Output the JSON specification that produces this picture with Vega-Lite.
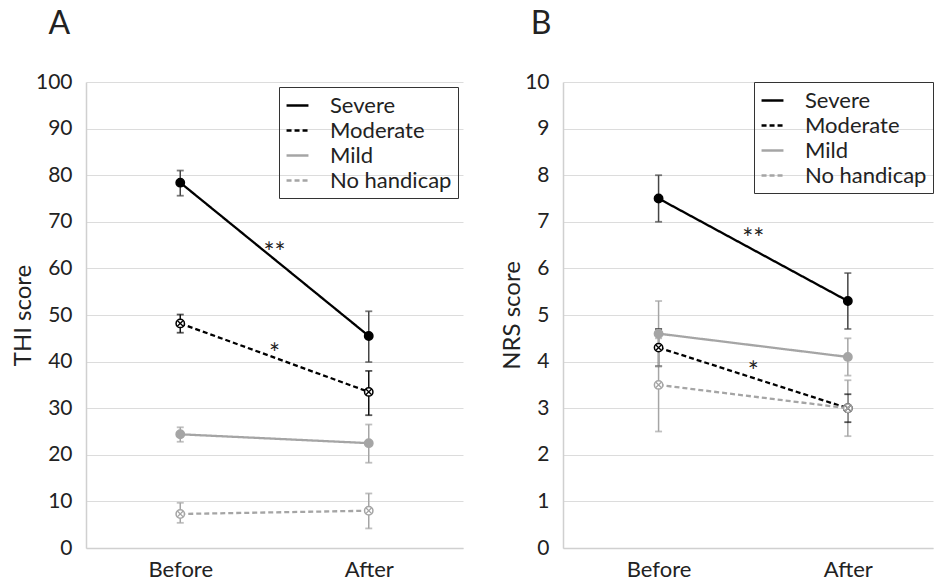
{
  "$schema": "https://vega.github.io/schema/vega-lite/v6.json",
  "padding": {"left": 11, "top": 8, "right": 0, "bottom": 0},
  "background": "white",
  "spacing": 37,
  "resolve": {"scale": {"color": "independent", "strokeDash": "independent", "x": "independent", "y": "independent"}, "legend": {"color": "independent", "strokeDash": "independent"}},
  "config": {
    "font": "Lato",
    "view": {"stroke": null},
    "axis": {
      "labelFont": "Lato", "titleFont": "Lato",
      "labelFontSize": 21, "titleFontSize": 24, "titleFontWeight": "normal",
      "labelColor": "#222", "titleColor": "#222",
      "ticks": false, "domainColor": "#d0d0d0", "gridColor": "#dcdcdc", "domainWidth": 1.5
    },
    "legend": {
      "title": null, "orient": "top-right", "offset": 5,
      "symbolType": "stroke", "symbolSize": 480, "symbolStrokeWidth": 2.5,
      "labelFontSize": 22, "labelFont": "Lato", "labelColor": "#222", "labelOffset": 20,
      "rowPadding": 1, "padding": 6, "strokeColor": "#333", "labelLimit": 300
    },
    "title": {"font": "Lato", "fontSize": 32, "fontWeight": "normal", "color": "#222", "anchor": "start", "frame": "bounds"}
  },
  "datasets": {
    "A": [
      {"series": "Severe", "t": 1, "y": 78.4, "lo": 75.6, "hi": 81.0},
      {"series": "Severe", "t": 2, "y": 45.5, "lo": 39.9, "hi": 50.8},
      {"series": "Moderate", "t": 1, "y": 48.2, "lo": 46.2, "hi": 50.1},
      {"series": "Moderate", "t": 2, "y": 33.5, "lo": 28.5, "hi": 38.0},
      {"series": "Mild", "t": 1, "y": 24.4, "lo": 22.8, "hi": 25.9},
      {"series": "Mild", "t": 2, "y": 22.5, "lo": 18.3, "hi": 26.5},
      {"series": "No handicap", "t": 1, "y": 7.3, "lo": 5.4, "hi": 9.7},
      {"series": "No handicap", "t": 2, "y": 8.0, "lo": 4.2, "hi": 11.7}
    ],
    "B": [
      {"series": "Severe", "t": 1, "y": 7.5, "lo": 7.0, "hi": 8.0},
      {"series": "Severe", "t": 2, "y": 5.3, "lo": 4.7, "hi": 5.9},
      {"series": "Moderate", "t": 1, "y": 4.3, "lo": 3.9, "hi": 4.7},
      {"series": "Moderate", "t": 2, "y": 3.0, "lo": 2.7, "hi": 3.3},
      {"series": "Mild", "t": 1, "y": 4.6, "lo": 3.9, "hi": 5.3},
      {"series": "Mild", "t": 2, "y": 4.1, "lo": 3.7, "hi": 4.5},
      {"series": "No handicap", "t": 1, "y": 3.5, "lo": 2.5, "hi": 4.5},
      {"series": "No handicap", "t": 2, "y": 3.0, "lo": 2.4, "hi": 3.6}
    ],
    "annA": [
      {"t": 1.5, "y": 63, "label": "**"},
      {"t": 1.5, "y": 41.5, "label": "*"}
    ],
    "annB": [
      {"t": 1.5, "y": 6.6, "label": "**"},
      {"t": 1.5, "y": 3.75, "label": "*"}
    ]
  },
  "hconcat": [
    {
      "title": {"text": "A", "dx": 37, "offset": 30},
      "width": 377,
      "height": 466,
      "data": {"name": "A"},
      "encoding": {
        "x": {"field": "t", "type": "quantitative",
          "scale": {"domain": [0.5, 2.5], "nice": false, "zero": false},
          "axis": {"values": [1, 2], "labelExpr": "datum.value == 1 ? 'Before' : 'After'", "grid": false, "title": null, "labelPadding": 11, "labelFontSize": 22}}
      },
      "layer": [
        {
          "mark": {"type": "rule", "strokeWidth": 1.5},
          "encoding": {
            "y": {"field": "lo", "type": "quantitative", "scale": {"domain": [0, 100], "nice": false},
              "axis": {"values": [0,10,20,30,40,50,60,70,80,90,100], "title": "THI score", "labelPadding": 14, "titlePadding": 0}},
            "y2": {"field": "hi"},
            "stroke": {"field": "series", "type": "nominal", "scale": {"domain": ["Severe", "Moderate", "Mild", "No handicap"], "range": ["#444444", "#111111", "#a5a5a5", "#a5a5a5"]}, "legend": null}
          }
        },
        {
          "mark": {"type": "tick", "orient": "horizontal", "size": 7, "thickness": 1.8},
          "encoding": {
            "y": {"field": "lo", "type": "quantitative"},
            "fill": {"field": "series", "type": "nominal", "scale": {"domain": ["Severe", "Moderate", "Mild", "No handicap"], "range": ["#444444", "#111111", "#a5a5a5", "#a5a5a5"]}, "legend": null}
          }
        },
        {
          "mark": {"type": "tick", "orient": "horizontal", "size": 7, "thickness": 1.8},
          "encoding": {
            "y": {"field": "hi", "type": "quantitative"},
            "fill": {"field": "series", "type": "nominal", "scale": {"domain": ["Severe", "Moderate", "Mild", "No handicap"], "range": ["#444444", "#111111", "#a5a5a5", "#a5a5a5"]}, "legend": null}
          }
        },
        {
          "mark": {"type": "line", "strokeWidth": 2.3},
          "encoding": {
            "y": {"field": "y", "type": "quantitative"},
            "color": {"field": "series", "type": "nominal", "sort": ["Severe", "Moderate", "Mild", "No handicap"], "scale": {"domain": ["Severe", "Moderate", "Mild", "No handicap"], "range": ["#000000", "#000000", "#a5a5a5", "#a5a5a5"]}, "legend": {}},
            "strokeDash": {"field": "series", "type": "nominal", "sort": ["Severe", "Moderate", "Mild", "No handicap"], "scale": {"domain": ["Severe", "Moderate", "Mild", "No handicap"], "range": [[1, 0], [5, 3], [1, 0], [5, 3]]}, "legend": {}}
          }
        },
        {
          "mark": {"type": "circle", "size": 70, "strokeWidth": 1.5, "opacity": 1},
          "encoding": {
            "y": {"field": "y", "type": "quantitative"},
            "fill": {"field": "series", "type": "nominal", "scale": {"domain": ["Severe", "Moderate", "Mild", "No handicap"], "range": ["#000000", "#ffffff", "#a5a5a5", "#ffffff"]}, "legend": null},
            "stroke": {"field": "series", "type": "nominal", "scale": {"domain": ["Severe", "Moderate", "Mild", "No handicap"], "range": ["#000000", "#000000", "#a5a5a5", "#a5a5a5"]}, "legend": null}
          }
        },
        {
          "transform": [{"filter": {"field": "series", "oneOf": ["Moderate", "No handicap"]}}],
          "mark": {"type": "point", "shape": "M-0.7,-0.7L0.7,0.7M-0.7,0.7L0.7,-0.7", "size": 70, "strokeWidth": 1.3, "filled": false, "opacity": 1},
          "encoding": {
            "y": {"field": "y", "type": "quantitative"},
            "stroke": {"field": "series", "type": "nominal", "scale": {"domain": ["Moderate", "No handicap"], "range": ["#000000", "#a5a5a5"]}, "legend": null}
          }
        },
        {
          "data": {"name": "annA"},
          "mark": {"type": "text", "fontSize": 26, "font": "Lato", "color": "#222", "baseline": "middle", "align": "center"},
          "encoding": {
            "y": {"field": "y", "type": "quantitative"},
            "text": {"field": "label"}
          }
        }
      ],
      "resolve": {"scale": {"fill": "independent", "stroke": "independent"}}
    },
    {
      "title": {"text": "B", "dx": 30, "offset": 30},
      "width": 370,
      "height": 466,
      "data": {"name": "B"},
      "encoding": {
        "x": {"field": "t", "type": "quantitative",
          "scale": {"domain": [0.495, 2.45], "nice": false, "zero": false},
          "axis": {"values": [1, 2], "labelExpr": "datum.value == 1 ? 'Before' : 'After'", "grid": false, "title": null, "labelPadding": 11, "labelFontSize": 22}}
      },
      "layer": [
        {
          "mark": {"type": "rule", "strokeWidth": 1.5},
          "encoding": {
            "y": {"field": "lo", "type": "quantitative", "scale": {"domain": [0, 10], "nice": false},
              "axis": {"values": [0,1,2,3,4,5,6,7,8,9,10], "title": "NRS score", "labelPadding": 14, "titlePadding": 0}},
            "y2": {"field": "hi"},
            "stroke": {"field": "series", "type": "nominal", "scale": {"domain": ["Severe", "Moderate", "Mild", "No handicap"], "range": ["#444444", "#111111", "#a5a5a5", "#a5a5a5"]}, "legend": null}
          }
        },
        {
          "mark": {"type": "tick", "orient": "horizontal", "size": 7, "thickness": 1.8},
          "encoding": {
            "y": {"field": "lo", "type": "quantitative"},
            "fill": {"field": "series", "type": "nominal", "scale": {"domain": ["Severe", "Moderate", "Mild", "No handicap"], "range": ["#444444", "#111111", "#a5a5a5", "#a5a5a5"]}, "legend": null}
          }
        },
        {
          "mark": {"type": "tick", "orient": "horizontal", "size": 7, "thickness": 1.8},
          "encoding": {
            "y": {"field": "hi", "type": "quantitative"},
            "fill": {"field": "series", "type": "nominal", "scale": {"domain": ["Severe", "Moderate", "Mild", "No handicap"], "range": ["#444444", "#111111", "#a5a5a5", "#a5a5a5"]}, "legend": null}
          }
        },
        {
          "mark": {"type": "line", "strokeWidth": 2.3},
          "encoding": {
            "y": {"field": "y", "type": "quantitative"},
            "color": {"field": "series", "type": "nominal", "sort": ["Severe", "Moderate", "Mild", "No handicap"], "scale": {"domain": ["Severe", "Moderate", "Mild", "No handicap"], "range": ["#000000", "#000000", "#a5a5a5", "#a5a5a5"]}, "legend": {"offset": 0}},
            "strokeDash": {"field": "series", "type": "nominal", "sort": ["Severe", "Moderate", "Mild", "No handicap"], "scale": {"domain": ["Severe", "Moderate", "Mild", "No handicap"], "range": [[1, 0], [5, 3], [1, 0], [5, 3]]}, "legend": {"offset": 0}}
          }
        },
        {
          "mark": {"type": "circle", "size": 70, "strokeWidth": 1.5, "opacity": 1},
          "encoding": {
            "y": {"field": "y", "type": "quantitative"},
            "fill": {"field": "series", "type": "nominal", "scale": {"domain": ["Severe", "Moderate", "Mild", "No handicap"], "range": ["#000000", "#ffffff", "#a5a5a5", "#ffffff"]}, "legend": null},
            "stroke": {"field": "series", "type": "nominal", "scale": {"domain": ["Severe", "Moderate", "Mild", "No handicap"], "range": ["#000000", "#000000", "#a5a5a5", "#a5a5a5"]}, "legend": null}
          }
        },
        {
          "transform": [{"filter": {"field": "series", "oneOf": ["Moderate", "No handicap"]}}],
          "mark": {"type": "point", "shape": "M-0.7,-0.7L0.7,0.7M-0.7,0.7L0.7,-0.7", "size": 70, "strokeWidth": 1.3, "filled": false, "opacity": 1},
          "encoding": {
            "y": {"field": "y", "type": "quantitative"},
            "stroke": {"field": "series", "type": "nominal", "scale": {"domain": ["Moderate", "No handicap"], "range": ["#000000", "#a5a5a5"]}, "legend": null}
          }
        },
        {
          "data": {"name": "annB"},
          "mark": {"type": "text", "fontSize": 26, "font": "Lato", "color": "#222", "baseline": "middle", "align": "center"},
          "encoding": {
            "y": {"field": "y", "type": "quantitative"},
            "text": {"field": "label"}
          }
        }
      ],
      "resolve": {"scale": {"fill": "independent", "stroke": "independent"}}
    }
  ]
}
